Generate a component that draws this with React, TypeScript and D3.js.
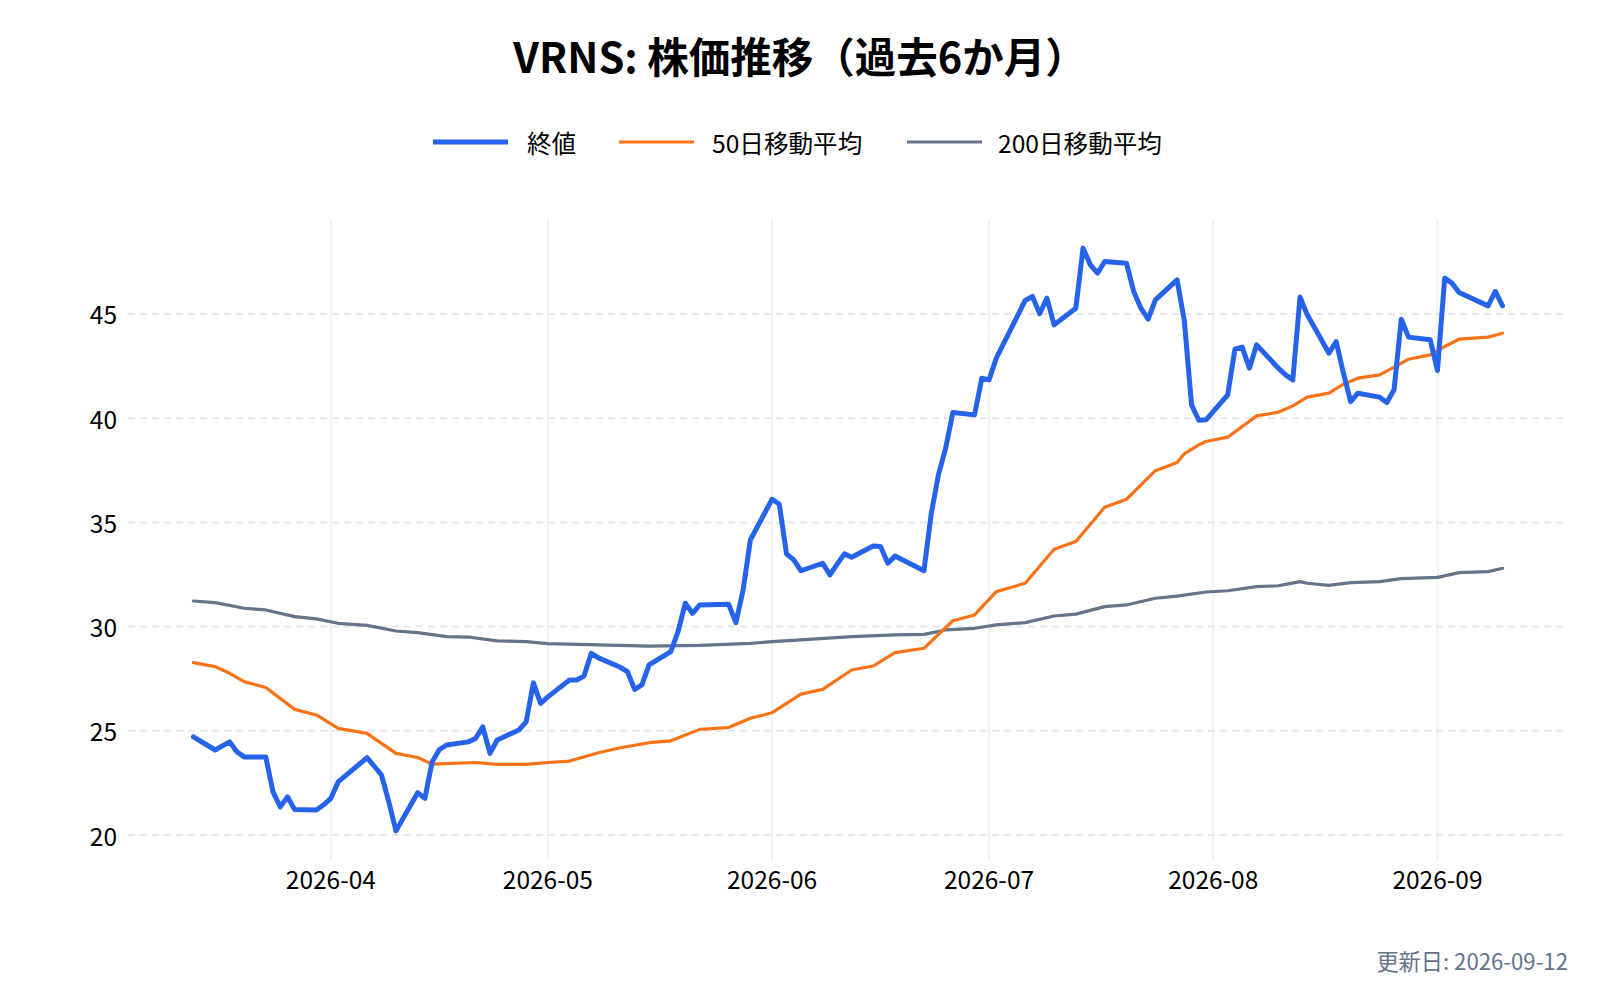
import * as d3 from 'd3';

// 終値 (daily close)
const closeDates = [
  '2026-03-13', '2026-03-16', '2026-03-17', '2026-03-18', '2026-03-19', '2026-03-20',
  '2026-03-23', '2026-03-24', '2026-03-25', '2026-03-26', '2026-03-27', '2026-03-30',
  '2026-03-31', '2026-04-01', '2026-04-02', '2026-04-06', '2026-04-07', '2026-04-08',
  '2026-04-09', '2026-04-10', '2026-04-13', '2026-04-14', '2026-04-15', '2026-04-16',
  '2026-04-17', '2026-04-20', '2026-04-21', '2026-04-22', '2026-04-23', '2026-04-24',
  '2026-04-27', '2026-04-28', '2026-04-29', '2026-04-30', '2026-05-01', '2026-05-04',
  '2026-05-05', '2026-05-06', '2026-05-07', '2026-05-08', '2026-05-11', '2026-05-12',
  '2026-05-13', '2026-05-14', '2026-05-15', '2026-05-18', '2026-05-19', '2026-05-20',
  '2026-05-21', '2026-05-22', '2026-05-26', '2026-05-27', '2026-05-28', '2026-05-29',
  '2026-06-01', '2026-06-02', '2026-06-03', '2026-06-04', '2026-06-05', '2026-06-08',
  '2026-06-09', '2026-06-10', '2026-06-11', '2026-06-12', '2026-06-15', '2026-06-16',
  '2026-06-17', '2026-06-18', '2026-06-22', '2026-06-23', '2026-06-24', '2026-06-25',
  '2026-06-26', '2026-06-29', '2026-06-30', '2026-07-01', '2026-07-02', '2026-07-06',
  '2026-07-07', '2026-07-08', '2026-07-09', '2026-07-10', '2026-07-13', '2026-07-14',
  '2026-07-15', '2026-07-16', '2026-07-17', '2026-07-20', '2026-07-21', '2026-07-22',
  '2026-07-23', '2026-07-24', '2026-07-27', '2026-07-28', '2026-07-29', '2026-07-30',
  '2026-07-31', '2026-08-03', '2026-08-04', '2026-08-05', '2026-08-06', '2026-08-07',
  '2026-08-10', '2026-08-11', '2026-08-12', '2026-08-13', '2026-08-14', '2026-08-17',
  '2026-08-18', '2026-08-19', '2026-08-20', '2026-08-21', '2026-08-24', '2026-08-25',
  '2026-08-26', '2026-08-27', '2026-08-28', '2026-08-31', '2026-09-01', '2026-09-02',
  '2026-09-03', '2026-09-04', '2026-09-08', '2026-09-09', '2026-09-10',
];
const closeValues = [
  24.71, 24.08, 24.28, 24.47, 24.0, 23.75,
  23.75, 22.07, 21.35, 21.83, 21.23, 21.2,
  21.45, 21.76, 22.55, 23.71, 23.3, 22.88,
  21.6, 20.2, 22.03, 21.76, 23.5, 24.1,
  24.32, 24.47, 24.63, 25.19, 23.92, 24.56,
  25.04, 25.43, 27.3, 26.32, 26.63, 27.44,
  27.44, 27.63, 28.72, 28.5, 28.05, 27.84,
  26.99, 27.2, 28.16, 28.8, 29.76, 31.12,
  30.64, 31.04, 31.07, 30.19, 31.76, 34.16,
  36.11, 35.87, 33.49, 33.2, 32.68, 33.04,
  32.48, 33.0, 33.49, 33.33, 33.87, 33.85,
  33.04, 33.39, 32.68, 35.4, 37.28, 38.56,
  40.27, 40.16, 41.92, 41.84, 42.88, 45.65,
  45.84, 45.01, 45.76, 44.48, 45.28, 48.16,
  47.36, 46.96, 47.52, 47.44, 46.08, 45.28,
  44.75, 45.68, 46.64, 44.68, 40.64, 39.9,
  39.92, 41.12, 43.31, 43.41, 42.4, 43.52,
  42.4, 42.08, 41.84, 45.81, 44.96, 43.12,
  43.68, 42.16, 40.8, 41.2, 41.01, 40.75,
  41.36, 44.75, 43.89, 43.76, 42.29, 46.72,
  46.48, 46.03, 45.39, 46.08, 45.39,
];

// 50日移動平均
const ma50Dates = [
  '2026-03-13', '2026-03-16', '2026-03-18', '2026-03-20', '2026-03-23', '2026-03-27',
  '2026-03-30', '2026-04-02', '2026-04-06', '2026-04-10', '2026-04-13', '2026-04-15',
  '2026-04-21', '2026-04-24', '2026-04-28', '2026-05-01', '2026-05-04', '2026-05-08',
  '2026-05-11', '2026-05-15', '2026-05-18', '2026-05-22', '2026-05-26', '2026-05-29',
  '2026-06-01', '2026-06-05', '2026-06-08', '2026-06-12', '2026-06-15', '2026-06-18',
  '2026-06-22', '2026-06-26', '2026-06-29', '2026-07-02', '2026-07-06', '2026-07-10',
  '2026-07-13', '2026-07-17', '2026-07-20', '2026-07-24', '2026-07-27', '2026-07-28',
  '2026-07-30', '2026-07-31', '2026-08-03', '2026-08-07', '2026-08-10', '2026-08-12',
  '2026-08-14', '2026-08-17', '2026-08-19', '2026-08-21', '2026-08-24', '2026-08-26',
  '2026-08-28', '2026-08-31', '2026-09-02', '2026-09-04', '2026-09-08', '2026-09-10',
];
const ma50Values = [
  28.27, 28.08, 27.76, 27.36, 27.08, 26.03,
  25.76, 25.12, 24.88, 23.92, 23.72, 23.4,
  23.48, 23.39, 23.39, 23.48, 23.55, 23.95,
  24.19, 24.43, 24.52, 25.07, 25.16, 25.6,
  25.87, 26.76, 26.99, 27.92, 28.11, 28.75,
  28.96, 30.28, 30.56, 31.68, 32.08, 33.71,
  34.08, 35.73, 36.11, 37.48, 37.87, 38.29,
  38.72, 38.88, 39.09, 40.11, 40.29, 40.59,
  41.01, 41.2, 41.63, 41.92, 42.08, 42.45,
  42.83, 43.04, 43.44, 43.79, 43.89, 44.08,
];

// 200日移動平均
const ma200Dates = [
  '2026-03-13', '2026-03-16', '2026-03-20', '2026-03-23', '2026-03-27', '2026-03-30',
  '2026-04-02', '2026-04-06', '2026-04-10', '2026-04-13', '2026-04-17', '2026-04-20',
  '2026-04-24', '2026-04-28', '2026-05-01', '2026-05-08', '2026-05-15', '2026-05-22',
  '2026-05-29', '2026-06-01', '2026-06-05', '2026-06-12', '2026-06-18', '2026-06-22',
  '2026-06-25', '2026-06-29', '2026-07-02', '2026-07-06', '2026-07-10', '2026-07-13',
  '2026-07-17', '2026-07-20', '2026-07-24', '2026-07-27', '2026-07-31', '2026-08-03',
  '2026-08-07', '2026-08-10', '2026-08-13', '2026-08-14', '2026-08-17', '2026-08-20',
  '2026-08-24', '2026-08-27', '2026-09-01', '2026-09-04', '2026-09-08', '2026-09-10',
];
const ma200Values = [
  31.23, 31.15, 30.88, 30.8, 30.48, 30.37,
  30.16, 30.06, 29.79, 29.71, 29.52, 29.5,
  29.32, 29.28, 29.18, 29.12, 29.06, 29.1,
  29.2, 29.28, 29.36, 29.52, 29.6, 29.63,
  29.84, 29.92, 30.08, 30.19, 30.51, 30.6,
  30.96, 31.04, 31.36, 31.46, 31.66, 31.72,
  31.92, 31.96, 32.16, 32.08, 31.98, 32.11,
  32.16, 32.3, 32.36, 32.59, 32.64, 32.8,
];

const yTicks = [20, 25, 30, 35, 40, 45];

const TITLE = 'VRNS: 株価推移（過去6か月）';
const UPDATED = '更新日: 2026-09-12';
const FONT = '"Noto Sans CJK JP", "Noto Sans", sans-serif';

const WIDTH = 1600;
const HEIGHT = 1000;
const margin = { top: 219, right: 32, bottom: 140, left: 128 };

type Pt = { date: Date; value: number };

const parse = d3.timeParse('%Y-%m-%d');
const toPoints = (dates: string[], values: number[]): Pt[] =>
  dates.map((d, i) => ({ date: parse(d) as Date, value: values[i] }));

const series = [
  { name: '終値', color: '#2563eb', width: 5, points: toPoints(closeDates, closeValues) },
  { name: '50日移動平均', color: '#f97316', width: 3.2, points: toPoints(ma50Dates, ma50Values) },
  { name: '200日移動平均', color: '#64748b', width: 3.2, points: toPoints(ma200Dates, ma200Values) },
];

// legend item x positions (line start, text start)
const legendPos = [
  { line: 433, text: 527 },
  { line: 619, text: 712 },
  { line: 907, text: 998 },
];

export default function App() {
  const all = series.flatMap(s => s.points);
  const [d0, d1] = d3.extent(all, d => d.date) as [Date, Date];
  const dPad = (d1.getTime() - d0.getTime()) * 0.05;
  const [v0, v1] = d3.extent(all, d => d.value) as [number, number];
  const vPad = (v1 - v0) * 0.05;

  const x = d3.scaleTime()
    .domain([new Date(d0.getTime() - dPad), new Date(d1.getTime() + dPad)])
    .range([margin.left, WIDTH - margin.right]);
  const y = d3.scaleLinear()
    .domain([v0 - vPad, v1 + vPad])
    .range([HEIGHT - margin.bottom, margin.top]);

  const line = d3.line<Pt>()
    .x(d => x(d.date))
    .y(d => y(d.value));

  const monthTicks = x.ticks(d3.timeMonth.every(1) as d3.TimeInterval);
  const fmt = d3.timeFormat('%Y-%m');
  const [xl, xr] = x.range();
  const [yb, yt] = y.range();

  return (
    <svg
      width={WIDTH}
      height={HEIGHT}
      style={{ position: 'absolute', left: 0, top: 0, background: '#fff' }}
      fontFamily={FONT}
    >
      <text x={800} y={73} textAnchor="middle" fontSize={41.5} fontWeight="bold" fill="#000">
        {TITLE}
      </text>

      {series.map((s, i) => (
        <g key={s.name}>
          <line x1={legendPos[i].line} x2={legendPos[i].line + 75} y1={142} y2={142}
            stroke={s.color} strokeWidth={s.width} />
          <text x={legendPos[i].text} y={142} dominantBaseline="central" fontSize={24.6} fill="#000">
            {s.name}
          </text>
        </g>
      ))}

      {monthTicks.map(t => (
        <g key={t.getTime()}>
          <line x1={x(t)} x2={x(t)} y1={yt} y2={yb} stroke="#eef2f7" strokeWidth={2} />
          <text x={x(t)} y={889} textAnchor="middle" fontSize={24.5} fill="#000">{fmt(t)}</text>
        </g>
      ))}

      {yTicks.map(t => (
        <g key={t}>
          <line x1={xl} x2={xr} y1={y(t)} y2={y(t)} stroke="#e5e7eb" strokeWidth={2}
            strokeDasharray="7,5" />
          <text x={117} y={y(t)} textAnchor="end" dominantBaseline="central" fontSize={24.5} fill="#000">
            {t}
          </text>
        </g>
      ))}

      {series.slice().reverse().map(s => (
        <path key={s.name} d={line(s.points) ?? ''} fill="none" stroke={s.color}
          strokeWidth={s.width} strokeLinejoin="round" strokeLinecap="round" />
      ))}

      <text x={xr} y={970} textAnchor="end" fontSize={22.2} fill="#64748b">{UPDATED}</text>
    </svg>
  );
}
